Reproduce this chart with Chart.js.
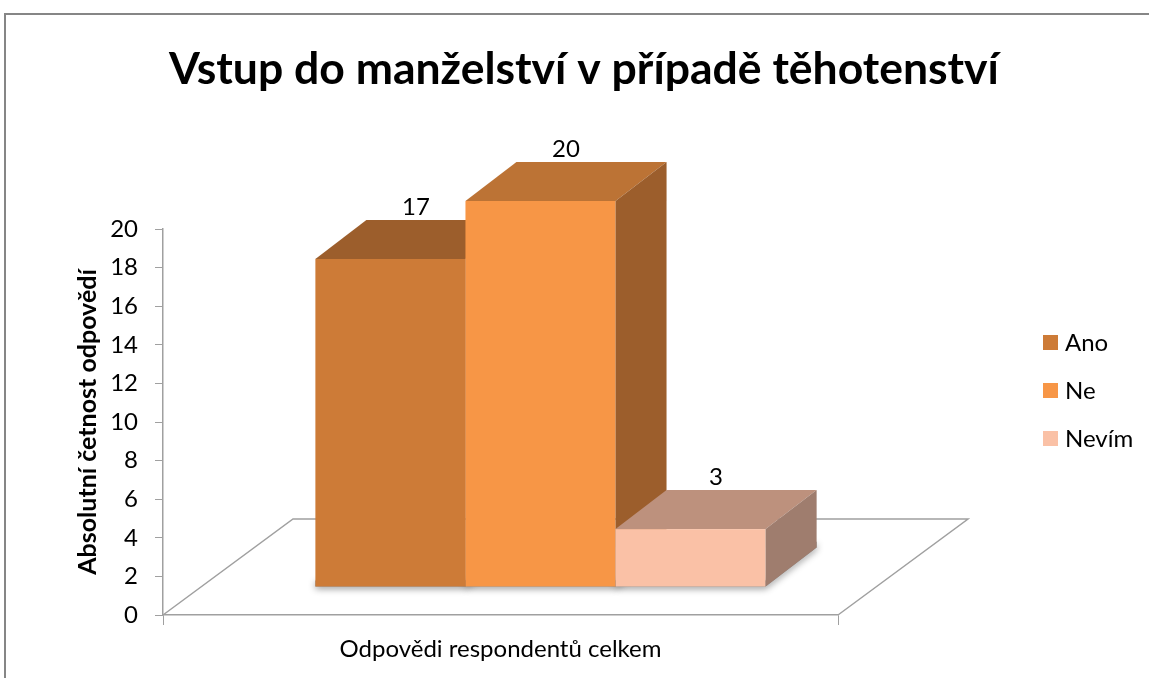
<!DOCTYPE html>
<html>
<head>
<meta charset="utf-8">
<script src="https://cdn.jsdelivr.net/npm/chart.js@4.4.1/dist/chart.umd.min.js"></script>
<style>
  html, body { margin: 0; padding: 0; background: #fff; }
  #wrap { width: 1149px; height: 678px; position: relative; }
</style>
</head>
<body>
<div id="wrap"><canvas id="c"></canvas></div>
<script>
// ---- data ----
const CHART_TITLE = "Vstup do manželství v případě těhotenství";
const Y_TITLE = "Absolutní četnost odpovědí";
const CATEGORIES = ["Odpovědi respondentů celkem"];
const SERIES_NAMES = ["Ano", "Ne", "Nevím"];
const SERIES_VALUES = [[17], [20], [3]];
const Y_MIN = 0, Y_MAX = 20, Y_STEP = 2;

// ---- look ----
const FRONT = ["#CD7B37", "#F79646", "#FAC1A6"];
const TOP = ["#9C5E2C", "#BC7335", "#BD917D"];
const SIDE = ["#9C5E2C", "#9C5E2C", "#9F7D6E"];
const FONT = "Lato, 'Open Sans', sans-serif";
const AXIS_GRAY = "#A0A0A0";

// 3d geometry (px)
const FLOOR_DX = 130, FLOOR_DY = -96;      // floor depth
const BAR_SHIFT_X = 40, BAR_SHIFT_Y = -28; // bars sit inside the floor
const BAR_DX = 51, BAR_DY = -39;           // bar depth

const bars3d = {
    id: "bars3d",
    beforeDraw(chart) {
        const ctx = chart.ctx;
        ctx.save();
        ctx.fillStyle = "#fff";
        ctx.fillRect(0, 0, chart.width, chart.height);
        ctx.strokeStyle = "#868686";
        ctx.lineWidth = 2;
        ctx.strokeRect(5, 14, chart.width + 20, chart.height + 20);
        // title
        ctx.fillStyle = "#000";
        ctx.font = "bold 44.5px " + FONT;
        ctx.textAlign = "center";
        ctx.textBaseline = "middle";
        ctx.fillText(CHART_TITLE, 584, 70);
        ctx.restore();
    },
    beforeDatasetsDraw(chart) {
        // floor outline
        const a = chart.chartArea;
        const ctx = chart.ctx;
        ctx.save();
        ctx.strokeStyle = AXIS_GRAY;
        ctx.lineWidth = 1.5;
        ctx.beginPath();
        ctx.moveTo(a.left, a.bottom);
        ctx.lineTo(a.left + FLOOR_DX, a.bottom + FLOOR_DY);
        ctx.lineTo(a.right + FLOOR_DX, a.bottom + FLOOR_DY);
        ctx.lineTo(a.right, a.bottom);
        ctx.stroke();
        ctx.restore();
    },
    afterDatasetsDraw(chart) {
        const ctx = chart.ctx;
        ctx.save();
        ctx.translate(BAR_SHIFT_X, BAR_SHIFT_Y);

        // soft shadow under the boxes
        ctx.save();
        ctx.shadowColor = "rgba(0,0,0,0.45)";
        ctx.shadowBlur = 7;
        ctx.shadowOffsetY = 2;
        ctx.fillStyle = "#888";
        SERIES_NAMES.forEach((name, i) => {
            chart.getDatasetMeta(i).data.forEach(bar => {
                const l = bar.x - bar.width / 2, r = bar.x + bar.width / 2, b = bar.base;
                ctx.beginPath();
                ctx.moveTo(l, b - 6);
                ctx.lineTo(r, b - 6);
                ctx.lineTo(r + BAR_DX, b + BAR_DY - 6);
                ctx.lineTo(r + BAR_DX, b + BAR_DY);
                ctx.lineTo(r, b);
                ctx.lineTo(l, b);
                ctx.closePath();
                ctx.fill();
            });
        });
        ctx.restore();

        // draw boxes left to right so each one hides the previous side face
        SERIES_NAMES.forEach((name, i) => {
            const meta = chart.getDatasetMeta(i);
            meta.data.forEach((bar, j) => {
                const l = bar.x - bar.width / 2, r = bar.x + bar.width / 2;
                const t = bar.y, b = bar.base;
                // front
                ctx.fillStyle = FRONT[i];
                ctx.fillRect(l, t, r - l, b - t);
                // top
                ctx.fillStyle = TOP[i];
                ctx.beginPath();
                ctx.moveTo(l, t);
                ctx.lineTo(l + BAR_DX, t + BAR_DY);
                ctx.lineTo(r + BAR_DX, t + BAR_DY);
                ctx.lineTo(r, t);
                ctx.closePath();
                ctx.fill();
                // side
                ctx.fillStyle = SIDE[i];
                ctx.beginPath();
                ctx.moveTo(r, t);
                ctx.lineTo(r + BAR_DX, t + BAR_DY);
                ctx.lineTo(r + BAR_DX, b + BAR_DY);
                ctx.lineTo(r, b);
                ctx.closePath();
                ctx.fill();
                // value label
                ctx.fillStyle = "#000";
                ctx.font = "24px " + FONT;
                ctx.textAlign = "center";
                ctx.textBaseline = "middle";
                ctx.fillText(String(SERIES_VALUES[i][j]), bar.x + BAR_DX / 2, t + BAR_DY - 13);
            });
        });
        ctx.restore();
    },
    afterDraw(chart) {
        // legend
        const ctx = chart.ctx;
        ctx.save();
        ctx.font = "24px " + FONT;
        ctx.textBaseline = "middle";
        ctx.textAlign = "left";
        SERIES_NAMES.forEach((name, i) => {
            const y = 343 + i * 48;
            ctx.fillStyle = FRONT[i];
            ctx.fillRect(1043, y - 8, 15, 15);
            ctx.fillStyle = "#000";
            ctx.fillText(name, 1065, y);
        });
        ctx.restore();
    }
};

// the library lays the bars out; the plugin paints them as boxes
const datasets = SERIES_NAMES.map((name, i) => ({
    label: name,
    data: SERIES_VALUES[i],
    backgroundColor: "rgba(0,0,0,0)",
    borderWidth: 0,
    barPercentage: 1,
    categoryPercentage: 0.667
}));

new Chart(document.getElementById("c"), {
    type: "bar",
    data: { labels: CATEGORIES, datasets },
    options: {
        responsive: true,
        maintainAspectRatio: false,
        animation: false,
        layout: { padding: { left: 70, right: 311, top: 229, bottom: 0 } },
        plugins: {
            legend: { display: false },
            tooltip: { enabled: false },
            title: { display: false }
        },
        scales: {
            x: {
                grid: { drawOnChartArea: false, drawTicks: true, tickLength: 10, color: AXIS_GRAY },
                border: { color: AXIS_GRAY, width: 1.5 },
                ticks: { color: "#000", font: { family: FONT, size: 24 }, padding: 10 },
                afterFit(s) { s.height = 63; }
            },
            y: {
                min: Y_MIN, max: Y_MAX,
                grid: { drawOnChartArea: false, drawTicks: true, tickLength: 8, color: AXIS_GRAY },
                border: { color: AXIS_GRAY, width: 1.5 },
                ticks: { stepSize: Y_STEP, color: "#000", font: { family: FONT, size: 24 }, padding: 17 },
                title: {
                    display: true,
                    text: Y_TITLE,
                    color: "#000",
                    font: { family: FONT, size: 25, weight: "bold" },
                    padding: { top: 3, bottom: 0 }
                },
                afterFit(s) { s.width = 93; }
            }
        }
    },
    plugins: [bars3d]
});
</script>
</body>
</html>
